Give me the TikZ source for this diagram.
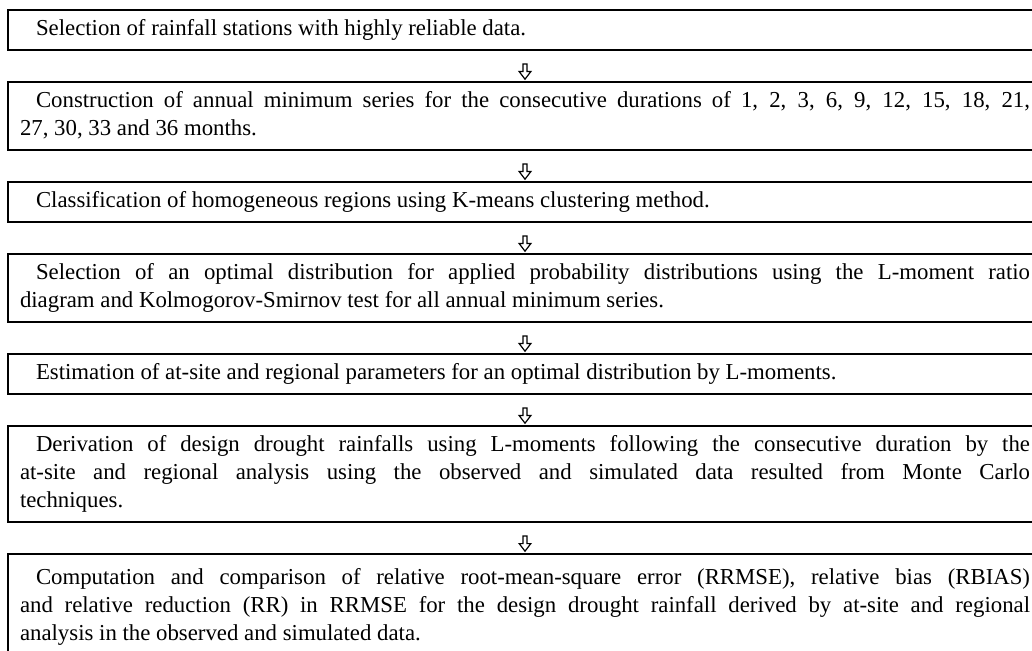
\documentclass[tikz,border=0pt]{standalone}
\usepackage{fontspec}
\setmainfont{Liberation Serif}
\usetikzlibrary{positioning,calc}

\begin{document}
\begin{tikzpicture}[
    stepbox/.style={
      draw=black,
      line width=0.6pt,
      align=justify,
      text width=505pt,
      inner xsep=6pt,
      inner ysep=3pt,
      outer sep=0pt,
      font=\fontsize{11.4}{14}\selectfont,
      execute at begin node={\hyphenpenalty=10000\strut\hspace*{8pt}},
      execute at end node={\strut}
    },
    flow/.style={
      draw=black,
      line width=0.6pt,
      fill=white,
      to path={
        let \p1=(\tikztotarget.north) in
        (\x1-1pt,\y1+9pt) -- (\x1-1pt,\y1+5.2pt)
        -- (\x1-2.9pt,\y1+5.2pt) -- (\x1,\y1+1.4pt)
        -- (\x1+2.9pt,\y1+5.2pt) -- (\x1+1pt,\y1+5.2pt)
        -- (\x1+1pt,\y1+9pt) -- cycle
      }
    },
    node distance=16pt
  ]

  \useasboundingbox (0,0) rectangle (516pt,-325.5pt);

  % Stations
  \node[stepbox,anchor=north west] (sel) at (4pt,-5pt) {%
    Selection of rainfall stations with highly reliable data.};

  % Annual minimum series
  \node[stepbox,below=of sel] (ser) {%
    Construction of annual minimum series for the consecutive durations of 1, 2, 3, 6, 9, 12, 15, 18, 21,\linebreak
    27, 30, 33 and 36 months.};

  % Homogeneous regions
  \node[stepbox,below=of ser] (reg) {%
    Classification of homogeneous regions using K-means clustering method.};

  % Optimal distribution
  \node[stepbox,below=of reg] (dist) {%
    Selection of an optimal distribution for applied probability distributions using the L-moment ratio\linebreak
    diagram and Kolmogorov-Smirnov test for all annual minimum series.};

  % Parameters
  \node[stepbox,below=of dist] (par) {%
    Estimation of at-site and regional parameters for an optimal distribution by L-moments.};

  % Design drought rainfalls
  \node[stepbox,below=of par] (rain) {%
    Derivation of design drought rainfalls using L-moments following the consecutive duration by the\linebreak
    at-site and regional analysis using the observed and simulated data resulted from Monte Carlo\linebreak
    techniques.};

  % RRMSE, RBIAS, RR
  \node[stepbox,below=of rain,minimum height=53pt] (comp) {%
    Computation and comparison of relative root-mean-square error (RRMSE), relative bias (RBIAS)\linebreak
    and relative reduction (RR) in RRMSE for the design drought rainfall derived by at-site and regional\linebreak
    analysis in the observed and simulated data.};

  % Arrows
  \draw[flow] (sel) to (ser);
  \draw[flow] (ser) to (reg);
  \draw[flow] (reg) to (dist);
  \draw[flow] (dist) to (par);
  \draw[flow] (par) to (rain);
  \draw[flow] (rain) to (comp);

\end{tikzpicture}
\end{document}
